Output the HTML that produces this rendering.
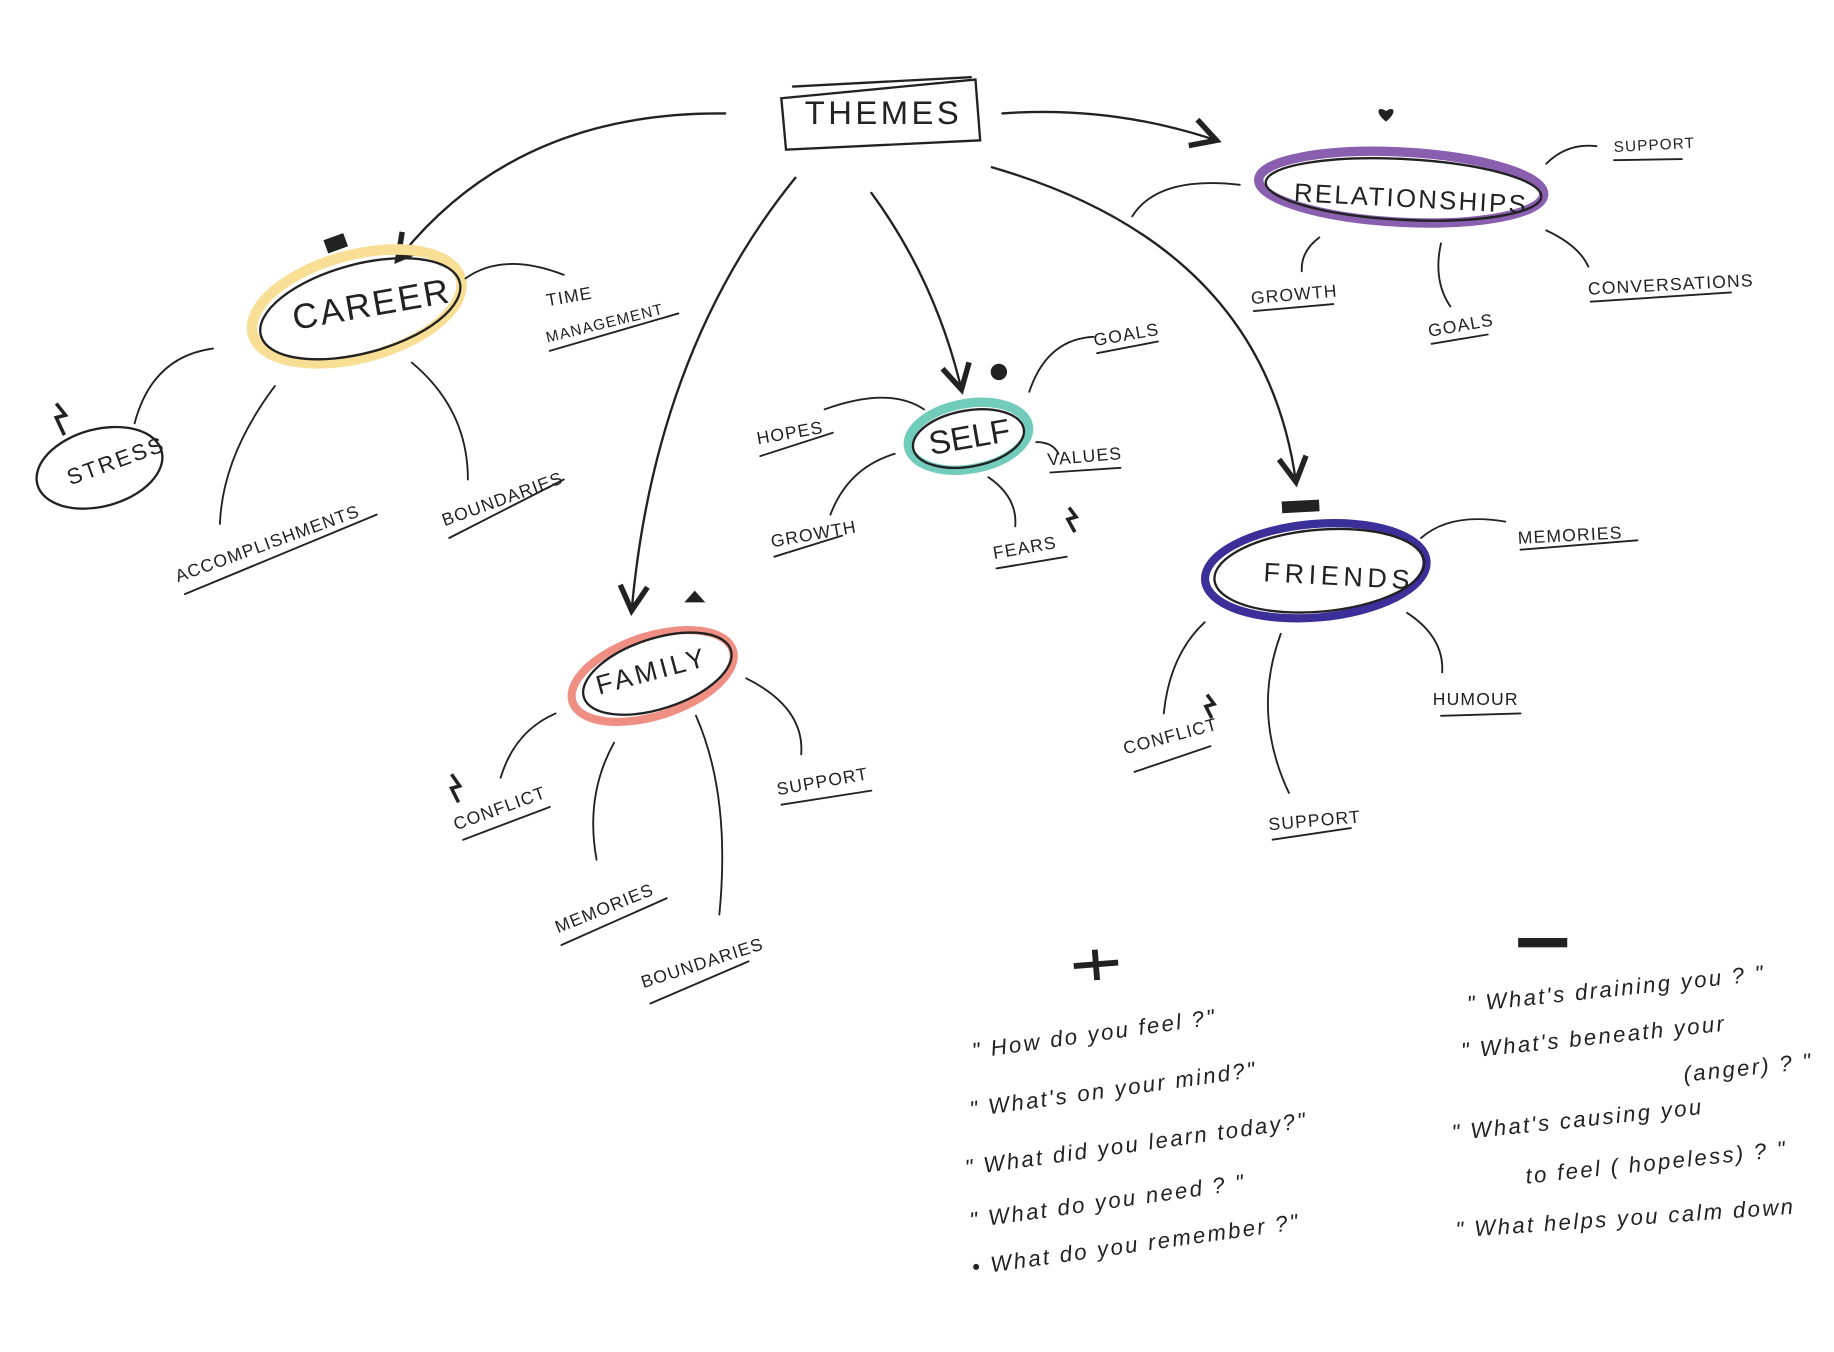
<!DOCTYPE html>
<html><head><meta charset="utf-8"><style>
html,body{margin:0;padding:0;background:#fff;}
svg{display:block}
text{font-family:"Liberation Sans",sans-serif;fill:#222;}
.l{font-size:15px;letter-spacing:1px}
.q{font-family:"Liberation Serif",serif;font-style:italic;font-size:19px;letter-spacing:2px}
</style></head><body>
<svg width="1834" height="1352" viewBox="0 0 1568 1156" xmlns="http://www.w3.org/2000/svg">
<defs><marker id="a" viewBox="0 0 12 12" refX="10" refY="6" markerWidth="14" markerHeight="14" orient="auto"><path d="M1,1 L10,6 L1,11" fill="none" stroke="#222" stroke-width="2"/></marker></defs>
<g fill="none" stroke="#222" stroke-width="2" stroke-linecap="round">
<path d="M668,84 L834,68 L838,120 L672,128 Z"/>
<path d="M678,74 L830,66"/>
<path d="M620,97 Q440,95 340,222" marker-end="url(#a)"/>
<path d="M857,97 Q950,90 1040,120" marker-end="url(#a)"/>
<path d="M680,152 Q560,300 540,522" marker-end="url(#a)"/>
<path d="M745,165 Q800,240 822,333" marker-end="url(#a)"/>
<path d="M848,143 Q1080,210 1108,412" marker-end="url(#a)"/>
</g>
<text x="688" y="106" style="font-size:28px;letter-spacing:3px">THEMES</text>

<g fill="none">
<ellipse cx="305" cy="262" rx="92" ry="44" transform="rotate(-15 305 262)" stroke="#f8df95" stroke-width="9"/>
<ellipse cx="308" cy="264" rx="88" ry="38" transform="rotate(-15 308 264)" stroke="#222" stroke-width="2"/>
<ellipse cx="1198" cy="160" rx="122" ry="30" transform="rotate(3 1198 160)" stroke="#8a5fb0" stroke-width="8"/>
<ellipse cx="1200" cy="162" rx="118" ry="26" transform="rotate(3 1200 162)" stroke="#222" stroke-width="2"/>
<ellipse cx="828" cy="373" rx="52" ry="28" transform="rotate(-10 828 373)" stroke="#72ccbc" stroke-width="8"/>
<ellipse cx="828" cy="375" rx="48" ry="24" transform="rotate(-10 828 375)" stroke="#222" stroke-width="2"/>
<ellipse cx="1125" cy="488" rx="95" ry="40" transform="rotate(-5 1125 488)" stroke="#3b2f9a" stroke-width="7"/>
<ellipse cx="1128" cy="488" rx="90" ry="35" transform="rotate(-5 1128 488)" stroke="#222" stroke-width="2"/>
<ellipse cx="558" cy="578" rx="72" ry="34" transform="rotate(-18 558 578)" stroke="#ef8f84" stroke-width="7"/>
<ellipse cx="562" cy="576" rx="66" ry="30" transform="rotate(-18 562 576)" stroke="#222" stroke-width="2"/>
<ellipse cx="85" cy="400" rx="55" ry="33" transform="rotate(-15 85 400)" stroke="#222" stroke-width="2"/>
</g>
<text x="252" y="282" transform="rotate(-10 252 282)" style="font-size:30px;letter-spacing:2px">CAREER</text>
<text x="1106" y="172" transform="rotate(3 1106 172)" style="font-size:22px;letter-spacing:2px">RELATIONSHIPS</text>
<text x="796" y="389" transform="rotate(-10 796 389)" style="font-size:28px">SELF</text>
<text x="1080" y="497" transform="rotate(3 1080 497)" style="font-size:23px;letter-spacing:4px">FRIENDS</text>
<text x="512" y="594" transform="rotate(-15 512 594)" style="font-size:23px;letter-spacing:3px">FAMILY</text>
<text x="60" y="415" transform="rotate(-20 60 415)" style="font-size:19px;letter-spacing:2px">STRESS</text>

<g fill="none" stroke="#222" stroke-width="1.6" stroke-linecap="round">
<path d="M115,362 Q130,305 182,298"/>
<path d="M235,330 Q190,390 188,448"/>
<path d="M352,310 Q400,350 400,410"/>
<path d="M398,238 Q430,215 482,235"/>
<path d="M880,335 Q895,290 935,288"/>
<path d="M790,350 Q760,330 705,350"/>
<path d="M765,388 Q725,400 710,440"/>
<path d="M845,408 Q870,425 868,450"/>
<path d="M886,378 Q900,378 905,388"/>
<path d="M968,185 Q990,150 1060,158"/>
<path d="M1322,140 Q1340,122 1365,125"/>
<path d="M1128,203 Q1112,215 1113,232"/>
<path d="M1232,208 Q1225,240 1240,262"/>
<path d="M1322,197 Q1350,210 1358,228"/>
<path d="M1215,460 Q1240,438 1287,446"/>
<path d="M1030,532 Q1000,560 995,610"/>
<path d="M1095,542 Q1070,610 1102,678"/>
<path d="M1203,524 Q1235,545 1233,575"/>
<path d="M475,610 Q440,625 428,665"/>
<path d="M525,635 Q500,680 510,735"/>
<path d="M595,612 Q625,680 615,782"/>
<path d="M638,580 Q688,605 685,645"/>
</g>

<g class="l">
<text x="468" y="262" transform="rotate(-10 468 262)">TIME</text>
<text x="468" y="293" transform="rotate(-14 468 293)" style="font-size:13px">MANAGEMENT</text>
<text x="152" y="498" transform="rotate(-20 152 498)">ACCOMPLISHMENTS</text>
<text x="380" y="450" transform="rotate(-20 380 450)">BOUNDARIES</text>
<text x="936" y="296" transform="rotate(-10 936 296)">GOALS</text>
<text x="648" y="380" transform="rotate(-10 648 380)">HOPES</text>
<text x="896" y="398" transform="rotate(-5 896 398)">VALUES</text>
<text x="660" y="468" transform="rotate(-10 660 468)">GROWTH</text>
<text x="850" y="478" transform="rotate(-10 850 478)">FEARS</text>
<text x="1380" y="130" transform="rotate(-3 1380 130)" style="font-size:13px">SUPPORT</text>
<text x="1070" y="260" transform="rotate(-5 1070 260)">GROWTH</text>
<text x="1222" y="288" transform="rotate(-10 1222 288)">GOALS</text>
<text x="1358" y="252" transform="rotate(-3 1358 252)">CONVERSATIONS</text>
<text x="1298" y="465" transform="rotate(-3 1298 465)">MEMORIES</text>
<text x="1225" y="603">HUMOUR</text>
<text x="962" y="645" transform="rotate(-15 962 645)">CONFLICT</text>
<text x="1085" y="710" transform="rotate(-5 1085 710)">SUPPORT</text>
<text x="390" y="710" transform="rotate(-20 390 710)">CONFLICT</text>
<text x="665" y="680" transform="rotate(-10 665 680)">SUPPORT</text>
<text x="477" y="798" transform="rotate(-22 477 798)">MEMORIES</text>
<text x="550" y="845" transform="rotate(-18 550 845)">BOUNDARIES</text>
</g>
<g fill="none" stroke="#222" stroke-width="1.6" stroke-linecap="round">
<path d="M470,300 L580,268"/>
<path d="M158,508 L322,440"/>
<path d="M384,460 L482,410"/>
<path d="M938,302 L990,292"/>
<path d="M650,390 L712,370"/>
<path d="M898,404 L958,400"/>
<path d="M662,476 L720,458"/>
<path d="M852,486 L912,476"/>
<path d="M1380,137 L1438,136"/>
<path d="M1072,266 L1140,260"/>
<path d="M1224,294 L1272,286"/>
<path d="M1360,258 L1480,250"/>
<path d="M1300,470 L1400,462"/>
<path d="M1232,612 L1300,610"/>
<path d="M970,660 L1035,638"/>
<path d="M1088,718 L1155,708"/>
<path d="M396,718 L470,690"/>
<path d="M668,688 L745,676"/>
<path d="M480,808 L570,768"/>
<path d="M556,858 L640,822"/>
</g>

<path d="M1185,104 C1175,96 1178,90 1185,95 C1192,90 1195,96 1185,104Z" fill="#222"/>
<rect x="278" y="202" width="18" height="12" fill="#222" transform="rotate(-20 287 208)"/>
<circle cx="854" cy="318" r="7" fill="#222"/>
<rect x="1096" y="428" width="32" height="10" fill="#222" transform="rotate(-3 1112 433)"/>
<path d="M585,515 L594,505 L603,515 Z" fill="#222"/>
<path d="M48,345 L56,355 L48,357 L55,372" stroke="#222" stroke-width="3" fill="none"/>
<path d="M914,434 L920,442 L913,444 L919,455" stroke="#222" stroke-width="3" fill="none"/>
<path d="M1032,594 L1038,602 L1031,604 L1036,614" stroke="#222" stroke-width="3" fill="none"/>
<path d="M386,662 L393,672 L386,674 L392,686" stroke="#222" stroke-width="3" fill="none"/>
<path d="M936,812 L938,838 M918,826 L956,823" stroke="#222" stroke-width="5"/>
<rect x="1298" y="802" width="42" height="8" fill="#222"/>

<g class="q">
<text x="832" y="905" transform="rotate(-8 832 905)">" How do you feel ?"</text>
<text x="830" y="955" transform="rotate(-8 830 955)">" What's on your mind?"</text>
<text x="826" y="1005" transform="rotate(-8 826 1005)">" What did you learn today?"</text>
<text x="830" y="1050" transform="rotate(-8 830 1050)">" What do you need ? "</text>
<text x="832" y="1090" transform="rotate(-8 832 1090)">• What do you remember ?"</text>
<text x="1255" y="865" transform="rotate(-6 1255 865)">" What's draining you ? "</text>
<text x="1250" y="905" transform="rotate(-6 1250 905)">" What's beneath your</text>
<text x="1440" y="925" transform="rotate(-6 1440 925)">(anger) ? "</text>
<text x="1242" y="975" transform="rotate(-6 1242 975)">" What's causing you</text>
<text x="1305" y="1012" transform="rotate(-6 1305 1012)">to feel ( hopeless) ? "</text>
<text x="1245" y="1058" transform="rotate(-4 1245 1058)">" What helps you calm down</text>
</g>
</svg>
</body></html>
